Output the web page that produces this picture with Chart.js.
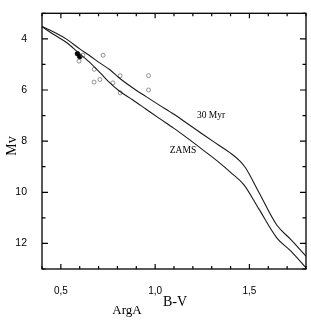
<!DOCTYPE html>
<html>
<head>
<meta charset="utf-8">
<script src="https://cdn.jsdelivr.net/npm/chart.js@4.4.1/dist/chart.umd.min.js"></script>
<style>
  html, body { margin: 0; padding: 0; background: #fff; }
  #wrap { width: 311px; height: 321px; }
</style>
</head>
<body>
<div id="wrap"><canvas id="c"></canvas></div>
<script>
// 30 Myr isochrone (B-V, Mv)
const myr30BV = [0.40, 0.47, 0.53, 0.60, 0.65, 0.71, 0.76, 0.81, 0.88, 0.95, 1.02, 1.10, 1.18, 1.26, 1.34, 1.40, 1.45, 1.48, 1.55, 1.645, 1.72, 1.80];
const myr30Mv = [3.52, 3.76, 4.01, 4.39, 4.64, 4.96, 5.21, 5.53, 5.91, 6.25, 6.58, 6.95, 7.36, 7.77, 8.17, 8.47, 8.78, 9.05, 10.00, 11.28, 11.85, 12.50];

// ZAMS
const zamsBV = [0.40, 0.46, 0.53, 0.59, 0.65, 0.71, 0.76, 0.81, 0.88, 0.95, 1.02, 1.10, 1.18, 1.26, 1.34, 1.40, 1.47, 1.55, 1.645, 1.72, 1.80];
const zamsMv = [3.52, 3.82, 4.14, 4.52, 4.90, 5.34, 5.72, 6.04, 6.38, 6.74, 7.10, 7.50, 7.93, 8.38, 8.84, 9.22, 9.70, 10.65, 11.78, 12.30, 12.95];

// stars
const openBV = [0.617, 0.596, 0.724, 0.677, 0.814, 0.965, 0.676, 0.707, 0.776, 0.815, 0.965];
const openMv = [4.64, 4.87, 4.64, 5.19, 5.44, 5.44, 5.69, 5.59, 5.72, 6.11, 6.00];
const filledBV = [0.588, 0.600];
const filledMv = [4.58, 4.70];

const xTickLabels = [0.5, 1.0, 1.5];
const yTickLabels = [4, 6, 8, 10, 12];
const xMinorStep = 0.1;
const yMinorStep = 1;

function pts(xs, ys) {
    return xs.map((x, i) => ({ x: x, y: ys[i] }));
}

const frame = {
    id: 'frame',
    afterDatasetsDraw(chart) {
        const ctx = chart.ctx;
        const a = chart.chartArea;
        const xs = chart.scales.x, ys = chart.scales.y;
        ctx.save();
        ctx.strokeStyle = '#000';
        ctx.lineWidth = 1.3;
        ctx.strokeRect(a.left, a.top, a.right - a.left, a.bottom - a.top);

        ctx.lineWidth = 1.2;
        ctx.beginPath();
        for (let v = 0.4; v <= 1.8001; v += xMinorStep) {
            const r = Math.round(v * 10) / 10;
            const major = xTickLabels.some(t => Math.abs(t - r) < 1e-6);
            const len = major ? 5 : 3;
            const px = xs.getPixelForValue(r);
            ctx.moveTo(px, a.bottom); ctx.lineTo(px, a.bottom - len);
            ctx.moveTo(px, a.top); ctx.lineTo(px, a.top + len);
        }
        for (let v = 3; v <= 13; v += yMinorStep) {
            const major = yTickLabels.includes(v);
            const len = major ? 6 : 3.5;
            const py = ys.getPixelForValue(v);
            ctx.moveTo(a.left, py); ctx.lineTo(a.left + len, py);
            ctx.moveTo(a.right, py); ctx.lineTo(a.right - len, py);
        }
        ctx.stroke();

        ctx.fillStyle = '#000';
        ctx.textAlign = 'center';
        ctx.textBaseline = 'middle';
        ctx.font = '9.5px "Liberation Serif", serif';
        ctx.fillText('30 Myr', 211, 115);
        ctx.fillText('ZAMS', 183, 150);

        ctx.font = '14px "Liberation Serif", serif';
        ctx.fillText('B-V', 175, 302);
        ctx.font = '13px "Liberation Serif", serif';
        ctx.fillText('ArgA', 127, 311);

        ctx.translate(12, 146);
        ctx.rotate(-Math.PI / 2);
        ctx.font = '14px "Liberation Serif", serif';
        ctx.fillText('Mv', 0, 0);
        ctx.restore();
    }
};

new Chart(document.getElementById('c'), {
    type: 'scatter',
    data: {
        datasets: [
            {
                label: '30 Myr',
                data: pts(myr30BV, myr30Mv),
                showLine: true,
                borderColor: '#1a1a1a',
                borderWidth: 1.1,
                pointRadius: 0,
                cubicInterpolationMode: 'monotone'
            },
            {
                label: 'ZAMS',
                data: pts(zamsBV, zamsMv),
                showLine: true,
                borderColor: '#1a1a1a',
                borderWidth: 1.1,
                pointRadius: 0,
                cubicInterpolationMode: 'monotone'
            },
            {
                label: 'open',
                data: pts(openBV, openMv),
                pointRadius: 2,
                borderWidth: 0.8,
                borderColor: '#777',
                backgroundColor: 'rgba(255,255,255,0)'
            },
            {
                label: 'filled',
                data: pts(filledBV, filledMv),
                pointRadius: 2.3,
                borderWidth: 0.8,
                borderColor: '#000',
                backgroundColor: '#000'
            }
        ]
    },
    options: {
        responsive: true,
        maintainAspectRatio: false,
        animation: false,
        layout: { padding: { top: 5, right: 5, left: 0, bottom: 0 } },
        plugins: {
            legend: { display: false },
            tooltip: { enabled: false }
        },
        scales: {
            x: {
                type: 'linear',
                min: 0.4,
                max: 1.8,
                grid: { display: false },
                border: { display: false },
                afterBuildTicks: s => { s.ticks = xTickLabels.map(v => ({ value: v })); },
                afterFit: s => { s.height = 52; },
                ticks: {
                    padding: 8,
                    color: '#000',
                    font: { family: '"Liberation Sans", Arial, sans-serif', size: 10 },
                    callback: v => v.toFixed(1).replace('.', ','),
                    maxRotation: 0
                }
            },
            y: {
                type: 'linear',
                reverse: true,
                min: 3,
                max: 13,
                grid: { display: false },
                border: { display: false },
                afterBuildTicks: s => { s.ticks = yTickLabels.map(v => ({ value: v })); },
                afterFit: s => { s.width = 42; },
                ticks: {
                    padding: 7,
                    color: '#000',
                    font: { family: '"Liberation Sans", Arial, sans-serif', size: 10.5 }
                }
            }
        }
    },
    plugins: [frame]
});
</script>
</body>
</html>
